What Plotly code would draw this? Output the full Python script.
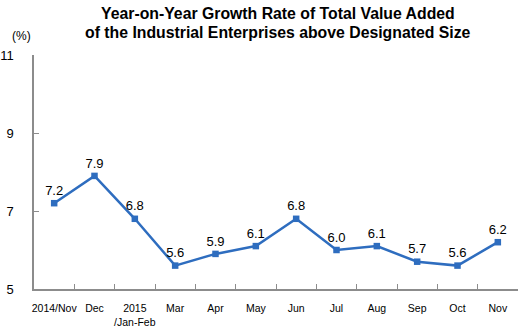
import plotly.graph_objects as go

categories = ["2014/Nov", "Dec", "2015<br>/Jan-Feb", "Mar", "Apr", "May", "Jun",
              "Jul", "Aug", "Sep", "Oct", "Nov"]
growth = [7.2, 7.9, 6.8, 5.6, 5.9, 6.1, 6.8, 6.0, 6.1, 5.7, 5.6, 6.2]
y_ticks = [5, 7, 9, 11]
title_lines = ["Year-on-Year Growth Rate of Total Value Added",
               "of the Industrial Enterprises above Designated Size"]

font_family = "Liberation Sans, Arial, sans-serif"
blue = "#2E6DBF"

fig = go.Figure()
fig.add_trace(go.Scatter(
    x=categories, y=growth, mode="lines+markers+text",
    line=dict(color=blue, width=2.5),
    marker=dict(symbol="square", size=6.5, color=blue),
    texttemplate="%{y:.1f}", textposition="top center",
    textfont=dict(family=font_family, size=13, color="#000000"),
    cliponaxis=False, hoverinfo="skip",
))

annotations = [
    dict(text="<b>" + title_lines[0] + "</b>", xref="paper", yref="paper",
         x=0.504, y=1.177, xanchor="center", yanchor="middle", showarrow=False,
         font=dict(family=font_family, size=15.8, color="#000000")),
    dict(text="<b>" + title_lines[1] + "</b>", xref="paper", yref="paper",
         x=0.504, y=1.098, xanchor="center", yanchor="middle", showarrow=False,
         font=dict(family=font_family, size=15.8, color="#000000")),
    dict(text="(%)", xref="paper", yref="paper", x=-0.025, y=1.082,
         xanchor="center", yanchor="middle", showarrow=False,
         font=dict(family=font_family, size=12, color="#000000")),
]

fig.update_layout(
    width=528, height=332,
    margin=dict(l=34, r=10, t=55, b=43, autoexpand=False),
    paper_bgcolor="white", plot_bgcolor="white",
    showlegend=False,
    font=dict(family=font_family, color="#000000"),
    annotations=annotations,
)

fig.update_xaxes(
    type="category", range=[-0.5, 11.5], automargin=False, tickangle=0,
    showline=True, linecolor="#8C8C8C", linewidth=1.5,
    ticks="inside", tickson="boundaries", ticklen=5, tickcolor="#8C8C8C",
    showgrid=False, zeroline=False, ticklabelstandoff=9,
    tickfont=dict(family=font_family, size=10.5, color="#000000"),
)
fig.update_yaxes(
    range=[5, 11], tickvals=y_ticks, ticktext=[str(v) for v in y_ticks],
    automargin=False,
    showline=True, linecolor="#8C8C8C", linewidth=1.5,
    ticks="inside", ticklen=5, tickcolor="#8C8C8C",
    showgrid=False, zeroline=False, ticklabelstandoff=16,
    tickfont=dict(family=font_family, size=13, color="#000000"),
)

fig.write_html("out.html")
